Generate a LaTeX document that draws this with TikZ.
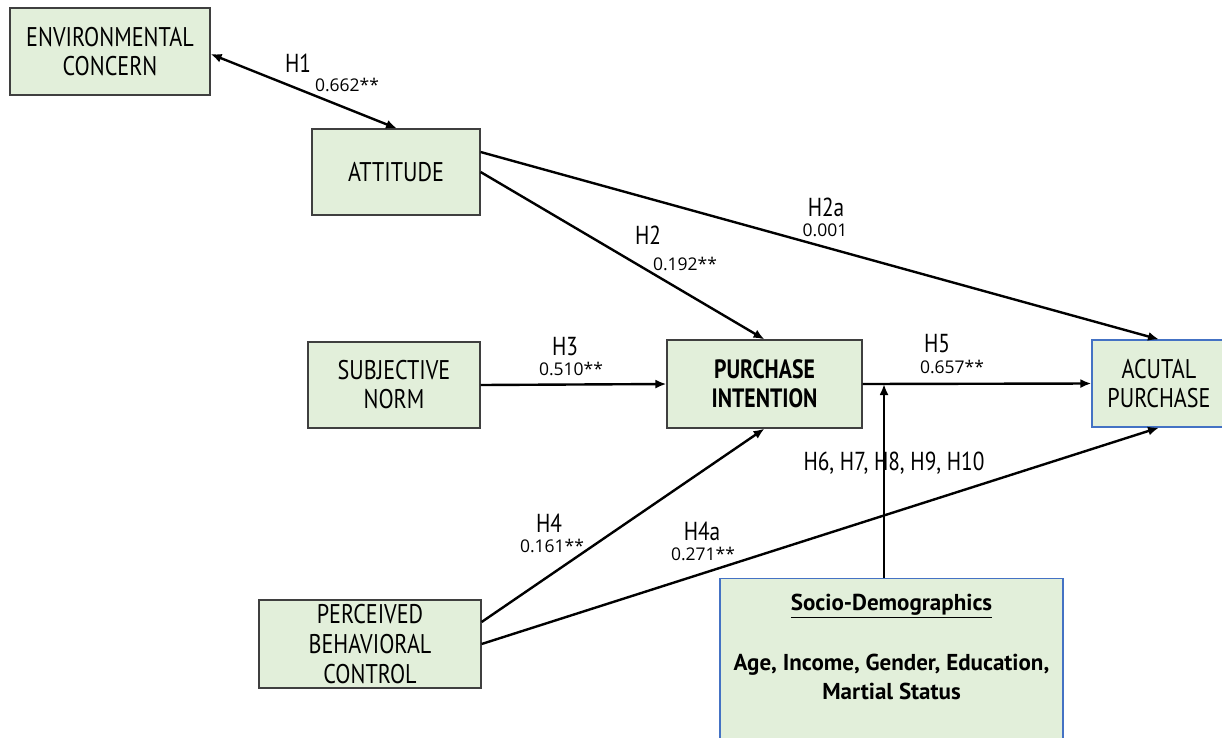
\documentclass[tikz,border=0pt]{standalone}
\usepackage{fontspec}
\setmainfont{PT Sans}[FakeStretch=0.82]
\newfontfamily\sdfont{PT Sans}[FakeStretch=1.0]
\newfontfamily\numfont{Open Sans}
\usetikzlibrary{arrows.meta}
\definecolor{boxfill}{HTML}{E2EFDA}
\definecolor{boxdraw}{HTML}{3F3F3F}
\definecolor{bluedraw}{HTML}{4472C4}
\tikzset{
  cbox/.style={draw=boxdraw, line width=1.2pt, fill=boxfill, align=center, inner sep=0pt, font=\fontsize{27}{29}\selectfont},
  bbox/.style={cbox, draw=bluedraw},
  conn/.style={line width=2.4pt, -{Latex[length=11pt,width=9pt]}},
  hyp/.style={font=\fontsize{26}{29}\selectfont, inner sep=0pt},
  coef/.style={font=\numfont\fontsize{17.5}{20}\selectfont, inner sep=0pt}
}
\begin{document}
\begin{tikzpicture}[x=1pt,y=-1pt]
\useasboundingbox (0,0) rectangle (1222,737);
\fill[white] (0,0) rectangle (1222,737);
% boxes
\node[cbox, minimum width=200pt, minimum height=87pt] (ec) at (110,51.5) {ENVIRONMENTAL\\CONCERN};
\node[cbox, minimum width=168pt, minimum height=86pt] (att) at (396,172) {ATTITUDE};
\node[cbox, minimum width=172pt, minimum height=86pt] (sn) at (394,385) {SUBJECTIVE\\NORM};
\node[cbox, minimum width=195pt, minimum height=88pt, font=\bfseries\fontsize{26.5}{29}\selectfont] (pi) at (764.5,384) {PURCHASE\\INTENTION};
\node[bbox, minimum width=134pt, minimum height=87pt] (ap) at (1159,383.5) {ACUTAL\\PURCHASE};
\node[cbox, minimum width=222pt, minimum height=88pt, font=\fontsize{27}{30}\selectfont] (pbc) at (370,644) {PERCEIVED\\BEHAVIORAL\\CONTROL};
\node[bbox, minimum width=343pt, minimum height=172pt, anchor=north] (sd) at (891.5,578) {};
\node[font=\sdfont\bfseries\fontsize{23}{29}\selectfont, align=center, inner sep=0pt, anchor=north] (sdt) at (891.5,594) {\underline{Socio-Demographics}\\[31pt]Age, Income, Gender, Education,\\Martial Status};
% connectors
\coordinate (h1s) at (212,54);
\coordinate (h1e) at (397,128.5);
\draw[line width=2.4pt, {Latex[length=11pt,width=9pt]}-{Latex[length=11pt,width=9pt]}] (ec.east |- h1s) -- (h1e);
\draw[conn] (att.east |- 0,172) -- (pi.north);
\draw[conn] (att.east |- 0,152) -- (ap.north);
\draw[conn] (sn.east) -- (pi.west);
\draw[conn] (pi.east) -- (ap.west);
\coordinate (mod) at (884,384);
\draw[conn] (sd.north -| mod) -- (mod);
\draw[conn] (pbc.east |- 0,622) -- (pi.south);
\draw[conn] (pbc.east |- 0,644) -- (ap.south);
% labels
\node[hyp] (lh1) at (298,63) {H1};
\node[coef] (c1) at (347,85) {0.662**};
\node[hyp] (lh2) at (648,235) {H2};
\node[coef] (c2) at (685,264) {0.192**};
\node[hyp] (lh2a) at (826,207) {H2a};
\node[coef] (c2a) at (825,230) {0.001};
\node[hyp] (lh3) at (565,347) {H3};
\node[coef] (c3) at (571,369) {0.510**};
\node[hyp] (lh5) at (937,344) {H5};
\node[coef] (c5) at (952,367) {0.657**};
\node[hyp] (lh6) at (894,463) {H6, H7, H8, H9, H10};
\node[hyp] (lh4) at (549,523) {H4};
\node[coef] (c4) at (552,546) {0.161**};
\node[hyp] (lh4a) at (702,531) {H4a};
\node[coef] (c4a) at (703,554) {0.271**};
\end{tikzpicture}
\end{document}
